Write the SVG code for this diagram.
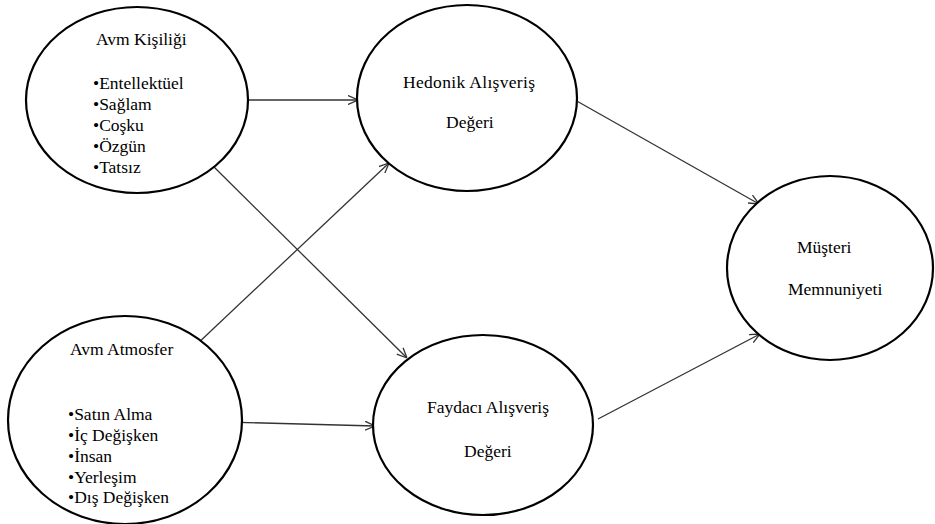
<svg xmlns="http://www.w3.org/2000/svg" width="935" height="524" viewBox="0 0 935 524">
<style>
.node{fill:#fff;stroke:#000;stroke-width:2.2}
text{font-family:'Liberation Serif','Times New Roman',serif;font-size:17.5px;fill:#000}
.edge{stroke:#333;stroke-width:1.3;fill:none;marker-end:url(#arr)}
</style>
<defs>
<marker id="arr" viewBox="0 0 10 10" refX="10" refY="5" markerWidth="10" markerHeight="10" markerUnits="userSpaceOnUse" orient="auto">
<path d="M0,0.5 L10,5 L0,9.5" fill="none" stroke="#333" stroke-width="1.3"/>
</marker>
</defs>
<rect width="935" height="524" fill="#fff"/>
<g id="connectors">
<line class="edge" x1="243" y1="100" x2="358" y2="100"/>
<line class="edge" x1="212" y1="165" x2="407" y2="358"/>
<line class="edge" x1="195" y1="346" x2="389" y2="163"/>
<line class="edge" x1="227" y1="422" x2="375" y2="426"/>
<line class="edge" x1="575" y1="100" x2="759" y2="204"/>
<line class="edge" x1="598" y1="419" x2="760" y2="334"/>
</g>
<g id="avm-kisiligi">
<ellipse class="node" cx="137" cy="100" rx="111" ry="93"/>
<text x="96" y="45">Avm Kişiliği</text>
<text x="93" y="89">•Entellektüel</text>
<text x="93" y="110">•Sağlam</text>
<text x="93" y="131">•Coşku</text>
<text x="93" y="152">•Özgün</text>
<text x="93" y="173">•Tatsız</text>
</g>
<g id="avm-atmosfer">
<ellipse class="node" cx="125" cy="420" rx="117" ry="104"/>
<text x="70" y="355">Avm Atmosfer</text>
<text x="68" y="420">•Satın Alma</text>
<text x="68" y="441">•İç Değişken</text>
<text x="68" y="462">•İnsan</text>
<text x="68" y="483">•Yerleşim</text>
<text x="68" y="503">•Dış Değişken</text>
</g>
<g id="hedonik">
<ellipse class="node" cx="467" cy="98" rx="110" ry="93"/>
<text x="403" y="88" textLength="132">Hedonik  Alışveriş</text>
<text x="446" y="128">Değeri</text>
</g>
<g id="faydaci">
<ellipse class="node" cx="483" cy="425" rx="110" ry="90"/>
<text x="427" y="413">Faydacı Alışveriş</text>
<text x="464" y="457">Değeri</text>
</g>
<g id="musteri">
<ellipse class="node" cx="830" cy="268" rx="103" ry="92"/>
<text x="797" y="253">Müşteri</text>
<text x="788" y="295">Memnuniyeti</text>
</g>
</svg>
